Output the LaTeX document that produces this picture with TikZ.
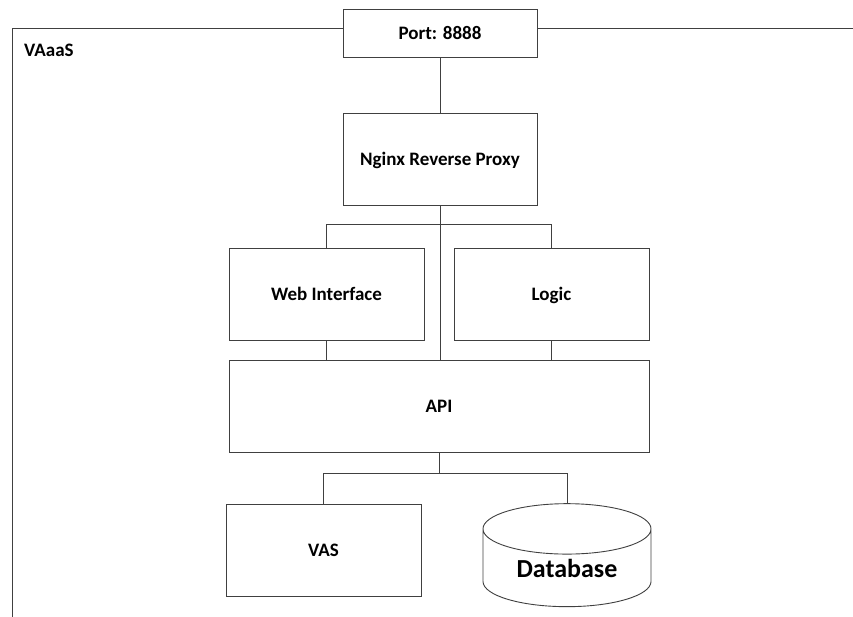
\documentclass[tikz,border=0pt]{standalone}
\usepackage{fontspec}
\setmainfont{Carlito}
\usetikzlibrary{calc}
\usetikzlibrary{shapes.geometric}

\tikzset{
 box/.style={draw=black!75, line width=.9pt, fill=white, inner sep=0,
  text height=13pt, text depth=0pt, font=\bfseries\fontsize{19}{22}\selectfont},
 wire/.style={draw=black!75, line width=.9pt},
}

\begin{document}
\begin{tikzpicture}[x=1pt,y=-1pt]
\useasboundingbox (0,0) rectangle (853,617);
% outer frame of VAaaS
\draw[wire] (12,617) -- (12,28) -- (853,28);
\node[anchor=base west, inner sep=0, font=\bfseries\fontsize{19}{22}\selectfont] (vaaas) at (24,57) {VAaaS};

\node[box, minimum width=194, minimum height=48] (port) at (440,33) {Port: 8888};
\node[box, minimum width=194, minimum height=92] (nginx) at (440,159) {Nginx Reverse Proxy};
\node[box, minimum width=195, minimum height=92] (web) at (326.5,294) {Web Interface};
\node[box, minimum width=195, minimum height=92] (logic) at (551.5,294) {Logic};
\node[box, minimum width=420, minimum height=92] (api) at (439,406) {API};
\node[box, minimum width=195, minimum height=92] (vas) at (323.5,550) {VAS};
\node[cylinder, shape border rotate=90, draw=black!75, line width=.9pt, aspect=.5,
 minimum width=168, minimum height=103, inner sep=0,
 font=\bfseries\fontsize{26}{30}\selectfont] (db) at (567,568) {Database};

% connectors
\draw[wire] (port) -- (nginx);
\draw[wire] (nginx.south) -- (nginx.south |- api.north);
\draw[wire] (web.north) -- ++(0,-23) -| (logic.north);
\draw[wire] (web.south) -- (web.south |- api.north);
\draw[wire] (logic.south) -- (logic.south |- api.north);
\draw[wire] (api.south) -- ++(0,21) coordinate (fork);
\draw[wire] (vas.north) |- (fork) -| (db.north);
\end{tikzpicture}
\end{document}
